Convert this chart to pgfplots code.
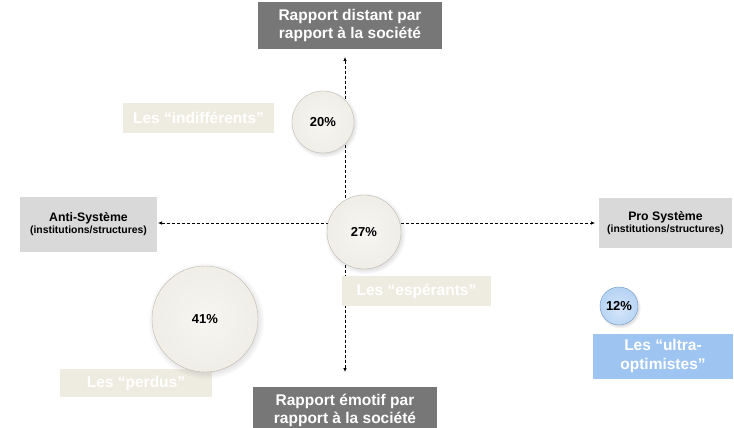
\documentclass[border=0pt]{standalone}
\usepackage{fontspec}
\setmainfont{Liberation Sans}
\usepackage{pgfplots}
\usepackage{pgfplotstable}
\pgfplotsset{compat=1.18}
\usetikzlibrary{shadows,arrows.meta}
\definecolor{darkbox}{HTML}{777777}
\definecolor{lightbox}{HTML}{D9D9D9}
\definecolor{beige}{HTML}{EEECE1}
\definecolor{bluebox}{HTML}{9EC5F2}
\definecolor{bub0}{HTML}{F6F5F1}
\definecolor{bub1}{HTML}{EDEBE3}
\definecolor{bub2}{HTML}{E0DDD3}
\definecolor{bub3}{HTML}{BDBAB1}
\definecolor{blu0}{HTML}{D3E5FA}
\definecolor{blu1}{HTML}{B3D1F3}
\definecolor{blu2}{HTML}{93B9E6}
\definecolor{blu3}{HTML}{6F95C4}
\pgfdeclareradialshading{bubble}{\pgfpoint{0bp}{0bp}}{color(0bp)=(bub0); color(34bp)=(bub1); color(45bp)=(bub2); color(50bp)=(bub3)}
\pgfdeclareradialshading{bluebubble}{\pgfpoint{0bp}{-6bp}}{color(0bp)=(blu0); color(30bp)=(blu1); color(46bp)=(blu2); color(50bp)=(blu3)}
\pgfplotstableread{
x y r p
323 122 31 20
364 232 37 27
205 319 53 41
}\beigetab
\pgfplotstableread{
x y r p
619 306 19 12
}\bluetab
\begin{document}
\begin{tikzpicture}
\begin{axis}[name=ax, width=734bp, height=428bp, scale only axis, hide axis,
  xmin=0, xmax=734, ymin=0, ymax=428, y dir=reverse, clip=false]
% dashed axes
\addplot[black, densely dashed, line width=0.7bp, {Latex[length=4bp,width=3.5bp]}-{Latex[length=4bp,width=3.5bp]}] coordinates {(345,57) (345,372)};
\addplot[black, densely dashed, line width=0.7bp, {Latex[length=4bp,width=3.5bp]}-{Latex[length=4bp,width=3.5bp]}] coordinates {(158,223) (595,223)};
% bubbles
\addplot[draw=none, mark=none, point meta=explicit symbolic,
  visualization depends on={\thisrow{r}\as\rad},
  nodes near coords={\pgfplotspointmeta\%},
  nodes near coords style={anchor=center, circle, inner sep=0pt, minimum size={2bp*\rad},
    shading=bubble, draw=bub3, line width=0.4bp, text=black,
    font=\fontsize{13bp}{15bp}\selectfont\bfseries,
    circular drop shadow={shadow xshift=1bp, shadow yshift=-1.5bp, opacity=0.25}}]
  table[x=x, y=y, meta=p] {\beigetab};
\addplot[draw=none, mark=none, point meta=explicit symbolic,
  visualization depends on={\thisrow{r}\as\rad},
  nodes near coords={\pgfplotspointmeta\%},
  nodes near coords style={anchor=center, circle, inner sep=0pt, minimum size={2bp*\rad},
    shading=bluebubble, draw=blu3, line width=0.4bp, text=black,
    font=\fontsize{13bp}{15bp}\selectfont\bfseries,
    circular drop shadow={shadow xshift=1bp, shadow yshift=-1.5bp, opacity=0.25}}]
  table[x=x, y=y, meta=p] {\bluetab};
% boxes
\node[fill=darkbox, text=white, align=center, minimum width=184bp, minimum height=47bp, inner sep=0pt,
  font=\fontsize{15.5bp}{18bp}\selectfont\bfseries] at (axis cs:350,25.5) {Rapport distant par\\rapport à la société};
\node[fill=darkbox, text=white, align=center, minimum width=184bp, minimum height=47bp, inner sep=0pt,
  font=\fontsize{15.5bp}{18bp}\selectfont\bfseries] at (axis cs:345,410.5) {Rapport émotif par\\rapport à la société};
\node[fill=lightbox, text=black, align=center, minimum width=137bp, minimum height=55bp, inner sep=0pt] at (axis cs:88.5,224.5)
  {{\fontsize{12.3bp}{15bp}\selectfont\bfseries Anti-Système}\\{\fontsize{10.4bp}{12bp}\selectfont\bfseries (institutions/structures)}};
\node[fill=lightbox, text=black, align=center, minimum width=133bp, minimum height=50bp, inner sep=0pt] at (axis cs:665.5,223)
  {{\fontsize{12.3bp}{15bp}\selectfont\bfseries Pro Système}\\{\fontsize{10.4bp}{12bp}\selectfont\bfseries (institutions/structures)}};
\node[fill=beige, text=white, minimum width=151bp, minimum height=30bp, inner sep=0pt,
  font=\fontsize{15.5bp}{18bp}\selectfont\bfseries] at (axis cs:198.5,118) {Les “indifférents”};
\node[fill=beige, text=white, minimum width=149bp, minimum height=30bp, inner sep=0pt,
  font=\fontsize{15.5bp}{18bp}\selectfont\bfseries] at (axis cs:416.5,291) {Les “espérants”};
\node[fill=beige, text=white, minimum width=152bp, minimum height=28bp, inner sep=0pt,
  font=\fontsize{15.5bp}{18bp}\selectfont\bfseries] at (axis cs:136,383) {Les “perdus”};
\node[fill=bluebox, text=white, align=center, minimum width=140bp, minimum height=45bp, inner sep=0pt,
  font=\fontsize{15.5bp}{19bp}\selectfont\bfseries] at (axis cs:663,356) {Les “ultra-\\optimistes”};
\end{axis}
\pgfresetboundingbox
\path[use as bounding box] (ax.south west) rectangle (ax.north east);
\end{tikzpicture}
\end{document}
